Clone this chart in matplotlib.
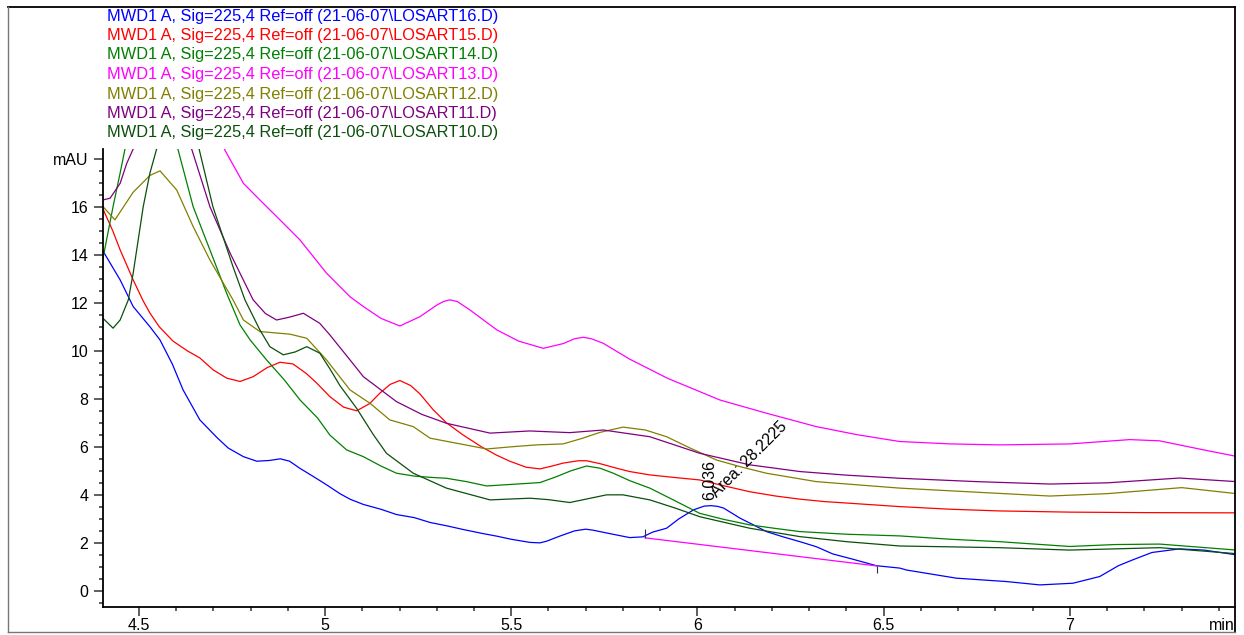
import matplotlib
matplotlib.use("Agg")
import matplotlib.pyplot as plt
from matplotlib.lines import Line2D
from matplotlib.ticker import MultipleLocator, FixedLocator

plt.rcParams['font.family'] = ['Liberation Sans', 'DejaVu Sans']
plt.rcParams['font.size'] = 11.5

# retention time (min) / signal (mAU) read off the overlay
# values above ~18.4 mAU are off the top of the plot
t16 = [4.404, 4.450, 4.485, 4.530, 4.557, 4.590, 4.619, 4.664, 4.709, 4.740, 4.781, 4.817,
       4.850, 4.880, 4.905, 4.933, 4.970, 5.004, 5.040, 5.067, 5.103, 5.150, 5.192, 5.240,
       5.282, 5.330, 5.370, 5.420, 5.461, 5.500, 5.550, 5.577, 5.595, 5.630, 5.670, 5.700,
       5.719, 5.760, 5.818, 5.853, 5.880, 5.917, 5.950, 5.971, 5.990, 6.018, 6.036, 6.054,
       6.070, 6.114, 6.150, 6.185, 6.230, 6.275, 6.319, 6.363, 6.417, 6.480, 6.543, 6.561,
       6.695, 6.829, 6.919, 7.008, 7.080, 7.130, 7.168, 7.220, 7.294, 7.360, 7.447]
s16 = [14.15, 12.95, 11.84, 11.00, 10.45, 9.45, 8.37, 7.12, 6.40, 5.95, 5.59, 5.40,
       5.43, 5.50, 5.40, 5.10, 4.75, 4.42, 4.05, 3.82, 3.60, 3.40, 3.18, 3.05,
       2.85, 2.70, 2.56, 2.40, 2.28, 2.15, 2.02, 2.00, 2.07, 2.28, 2.50, 2.57,
       2.53, 2.40, 2.22, 2.25, 2.45, 2.61, 3.00, 3.20, 3.38, 3.53, 3.55, 3.52,
       3.45, 3.03, 2.75, 2.47, 2.25, 2.05, 1.84, 1.54, 1.32, 1.05, 0.95, 0.87,
       0.53, 0.39, 0.25, 0.32, 0.60, 1.05, 1.29, 1.60, 1.75, 1.70, 1.50]

t15 = [4.404, 4.430, 4.450, 4.485, 4.511, 4.530, 4.555, 4.592, 4.630, 4.664, 4.700, 4.736,
       4.772, 4.807, 4.845, 4.879, 4.914, 4.950, 4.978, 5.013, 5.050, 5.085, 5.120, 5.147,
       5.175, 5.201, 5.230, 5.255, 5.290, 5.326, 5.370, 5.420, 5.461, 5.496, 5.540, 5.577,
       5.610, 5.639, 5.680, 5.702, 5.738, 5.780, 5.818, 5.872, 5.940, 6.006, 6.070, 6.140,
       6.210, 6.275, 6.340, 6.409, 6.543, 6.680, 6.811, 7.000, 7.200, 7.447]
s15 = [15.90, 15.00, 14.20, 12.95, 12.10, 11.57, 11.00, 10.40, 10.00, 9.70, 9.20, 8.86,
       8.72, 8.92, 9.30, 9.52, 9.45, 9.05, 8.65, 8.09, 7.65, 7.50, 7.80, 8.23,
       8.60, 8.76, 8.55, 8.20, 7.55, 7.00, 6.50, 6.00, 5.65, 5.40, 5.15, 5.08,
       5.20, 5.32, 5.42, 5.42, 5.30, 5.12, 4.97, 4.83, 4.72, 4.62, 4.38, 4.13,
       3.95, 3.82, 3.72, 3.65, 3.51, 3.40, 3.33, 3.28, 3.26, 3.25]

t14 = [4.404, 4.431, 4.450, 4.463, 4.500, 4.550, 4.580, 4.605, 4.646, 4.691, 4.736, 4.772,
       4.799, 4.843, 4.890, 4.933, 4.980, 5.013, 5.058, 5.103, 5.150, 5.192, 5.240, 5.282,
       5.326, 5.380, 5.434, 5.505, 5.577, 5.622, 5.660, 5.702, 5.738, 5.774, 5.818, 5.872,
       5.940, 6.006, 6.070, 6.140, 6.210, 6.275, 6.400, 6.543, 6.680, 6.811, 6.999, 7.120,
       7.241, 7.447]
s14 = [13.85, 16.00, 17.40, 18.40, 21.00, 23.00, 21.00, 18.40, 16.00, 14.20, 12.39, 11.07,
       10.45, 9.62, 8.80, 7.95, 7.20, 6.49, 5.87, 5.59, 5.20, 4.90, 4.78, 4.73,
       4.69, 4.55, 4.37, 4.44, 4.51, 4.76, 5.00, 5.20, 5.11, 4.90, 4.59, 4.28,
       3.75, 3.23, 2.98, 2.75, 2.60, 2.47, 2.36, 2.29, 2.15, 2.05, 1.85, 1.93,
       1.95, 1.70]

t13 = [4.650, 4.700, 4.731, 4.781, 4.825, 4.879, 4.933, 5.004, 5.067, 5.103, 5.150, 5.201,
       5.255, 5.300, 5.318, 5.335, 5.355, 5.389, 5.461, 5.520, 5.586, 5.640, 5.670, 5.693,
       5.715, 5.747, 5.818, 5.920, 6.060, 6.185, 6.319, 6.430, 6.543, 6.680, 6.811, 7.000,
       7.160, 7.240, 7.350, 7.447]
s13 = [22.00, 19.80, 18.36, 16.97, 16.28, 15.45, 14.61, 13.23, 12.25, 11.84, 11.35, 11.03,
       11.42, 11.90, 12.05, 12.12, 12.05, 11.70, 10.87, 10.40, 10.10, 10.30, 10.50, 10.56,
       10.50, 10.31, 9.65, 8.85, 7.95, 7.40, 6.84, 6.50, 6.22, 6.12, 6.08, 6.12,
       6.30, 6.25, 5.90, 5.60]

t12 = [4.404, 4.436, 4.485, 4.530, 4.557, 4.602, 4.646, 4.691, 4.753, 4.781, 4.825, 4.906,
       4.951, 5.004, 5.067, 5.121, 5.174, 5.237, 5.282, 5.353, 5.434, 5.500, 5.568, 5.639,
       5.690, 5.738, 5.800, 5.860, 5.917, 5.980, 6.051, 6.120, 6.185, 6.319, 6.543, 6.700,
       6.946, 7.100, 7.300, 7.447]
s12 = [16.00, 15.45, 16.60, 17.30, 17.49, 16.69, 15.17, 13.78, 12.12, 11.28, 10.80, 10.69,
       10.52, 9.62, 8.37, 7.81, 7.12, 6.84, 6.36, 6.15, 5.91, 6.00, 6.08, 6.12,
       6.35, 6.60, 6.82, 6.70, 6.42, 5.95, 5.45, 5.15, 4.90, 4.55, 4.28, 4.15,
       3.95, 4.05, 4.30, 4.05]

t11 = [4.404, 4.423, 4.450, 4.468, 4.485, 4.520, 4.560, 4.600, 4.642, 4.691, 4.745, 4.807,
       4.840, 4.870, 4.905, 4.942, 4.986, 5.013, 5.067, 5.103, 5.192, 5.260, 5.326, 5.443,
       5.550, 5.657, 5.747, 5.818, 5.872, 6.006, 6.140, 6.275, 6.400, 6.543, 6.750, 6.946,
       7.100, 7.294, 7.447]
s11 = [16.28, 16.35, 16.97, 17.81, 18.40, 21.00, 23.00, 21.00, 18.40, 16.00, 14.07, 12.12,
       11.55, 11.28, 11.40, 11.56, 11.14, 10.66, 9.62, 8.92, 7.88, 7.35, 6.98, 6.57,
       6.66, 6.59, 6.70, 6.54, 6.42, 5.73, 5.25, 4.97, 4.82, 4.69, 4.55, 4.45,
       4.50, 4.70, 4.55]

t10 = [4.404, 4.431, 4.450, 4.472, 4.485, 4.512, 4.530, 4.548, 4.580, 4.620, 4.662, 4.699,
       4.753, 4.785, 4.825, 4.852, 4.888, 4.920, 4.951, 4.986, 5.013, 5.040, 5.085, 5.130,
       5.165, 5.237, 5.326, 5.443, 5.550, 5.600, 5.657, 5.756, 5.800, 5.872, 5.940, 6.006,
       6.140, 6.275, 6.400, 6.543, 6.811, 6.999, 7.241, 7.447]
s10 = [11.35, 10.94, 11.28, 12.12, 13.23, 16.00, 17.40, 18.40, 22.00, 21.00, 18.40, 16.00,
       13.50, 12.12, 10.87, 10.17, 9.83, 9.95, 10.17, 9.90, 9.25, 8.55, 7.60, 6.50,
       5.73, 4.90, 4.28, 3.79, 3.86, 3.80, 3.68, 4.00, 4.00, 3.79, 3.45, 3.09,
       2.61, 2.26, 2.05, 1.87, 1.80, 1.70, 1.80, 1.55]

runs = ["LOSART16", "LOSART15", "LOSART14", "LOSART13", "LOSART12", "LOSART11", "LOSART10"]
run_colors = ["#0000ff", "#ff0000", "#008000", "#ff00ff", "#808000", "#800080", "#0b4f0b"]
run_times = [t16, t15, t14, t13, t12, t11, t10]
run_signals = [s16, s15, s14, s13, s12, s11, s10]

# integration of the 6.036 min peak in LOSART16
peak_rt = 6.036
peak_area = 28.2225
base_t = [5.859, 6.481]
base_s = [2.21, 1.04]


def main():
    fig = plt.figure(figsize=(12.44, 6.35), dpi=100)
    ax = fig.add_axes([103 / 1244, 28 / 635, 1132 / 1244, 458 / 635])

    for t, s, c in zip(run_times, run_signals, run_colors):
        ax.plot(t, s, color=c, lw=0.9)

    # baseline + tick marks
    ax.plot(base_t, base_s, color="#ff00ff", lw=0.9)
    ax.vlines(base_t[0], base_s[0], base_s[0] + 0.35, color="#333333", lw=0.8)
    ax.vlines(base_t[1], base_s[1] - 0.3, base_s[1], color="#333333", lw=0.8)

    ax.text(peak_rt - 0.003, 3.79, "%.3f" % peak_rt, rotation=90, ha="center", va="bottom",
            fontsize=11.5)
    ax.text(6.052, 3.85, "Area: %s" % peak_area, rotation=45, rotation_mode="anchor",
            ha="left", va="baseline", fontsize=11.5)

    ax.set_xlim(4.404, 7.443)
    ax.set_ylim(-0.67, 18.4)

    ax.spines["top"].set_visible(False)
    ax.spines["right"].set_visible(False)
    for sp in ("left", "bottom"):
        ax.spines[sp].set_linewidth(1.3)

    ax.xaxis.set_major_locator(FixedLocator([4.5, 5, 5.5, 6, 6.5, 7]))
    ax.set_xticklabels(["4.5", "5", "5.5", "6", "6.5", "7"])
    ax.xaxis.set_minor_locator(MultipleLocator(0.1))
    ax.yaxis.set_major_locator(FixedLocator([0, 2, 4, 6, 8, 10, 12, 14, 16, 18]))
    ax.set_yticklabels(["0", "2", "4", "6", "8", "10", "12", "14", "16", "mAU"])
    ax.yaxis.set_minor_locator(MultipleLocator(0.5))
    ax.tick_params(which="major", length=6.5, width=1.1, color="#333333", labelsize=11.5)
    ax.tick_params(which="minor", length=3, width=1.1, color="#333333")
    ax.tick_params(axis="x", which="major", pad=1.5)
    ax.tick_params(axis="y", which="major", pad=4)

    fig.text(1235 / 1244, 9 / 635, "min", ha="right", va="center", fontsize=11.5)

    # legend lines at the top
    for i, (name, c) in enumerate(zip(runs, run_colors)):
        fig.text(107 / 1244, (635 - 16 - i * 19.5) / 635,
                 "MWD1 A, Sig=225,4 Ref=off (21-06-07\\%s.D)" % name,
                 color=c, ha="left", va="center", fontsize=11.8)

    # outer frame
    x0, x1 = 8 / 1244, 1235 / 1244
    y0, y1 = 3 / 635, 628 / 635
    fig.add_artist(Line2D([x0, x1], [y1, y1], transform=fig.transFigure, color="black", lw=1.3))
    fig.add_artist(Line2D([x1, x1], [y0, y1], transform=fig.transFigure, color="black", lw=1.3))
    fig.add_artist(Line2D([x0, x0], [y0, y1], transform=fig.transFigure, color="#777777", lw=1.0))
    fig.add_artist(Line2D([x0, x1], [y0, y0], transform=fig.transFigure, color="#777777", lw=1.0))

    fig.savefig("out.png", dpi=100)


if __name__ == "__main__":
    main()
